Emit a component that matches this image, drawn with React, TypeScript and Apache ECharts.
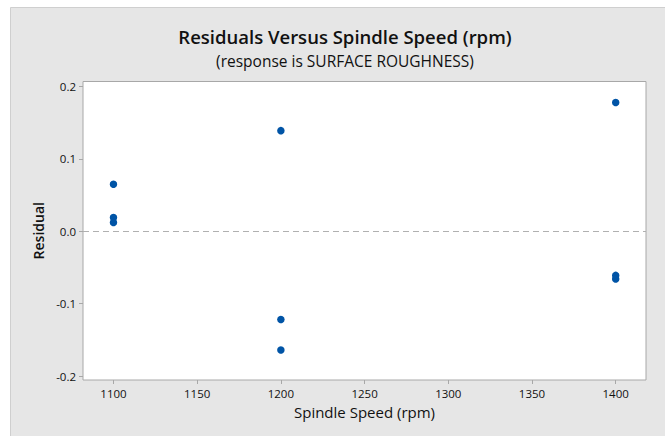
import React, { useEffect, useRef } from "react";
import * as echarts from "echarts";

const spindleSpeed = [1100, 1100, 1100, 1200, 1200, 1200, 1400, 1400, 1400];
const residuals = [0.065, 0.019, 0.012, 0.139, -0.122, -0.164, 0.178, -0.061, -0.066];
const xTicks = [1100, 1150, 1200, 1250, 1300, 1350, 1400];
const yTicks = [-0.2, -0.1, 0.0, 0.1, 0.2];

const FONT = "'Open Sans', 'Noto Sans', sans-serif";

export default function App() {
  const ref = useRef<HTMLDivElement>(null);
  useEffect(() => {
    if (!ref.current) return;
    const chart = echarts.init(ref.current, null, { renderer: "svg" });
    const data = spindleSpeed.map((s, i) => [s, residuals[i]]);
    chart.setOption({
      animation: false,
      backgroundColor: "#ffffff",
      graphic: [
        {
          type: "rect",
          z: -10,
          silent: true,
          shape: { x: 10.5, y: 7.5, width: 700, height: 500 },
          style: { fill: "#e6e6e6", stroke: "#cfcfcf", lineWidth: 1 },
        },
      ],
      title: [
        {
          text: "Residuals Versus Spindle Speed (rpm)",
          left: 340,
          top: 21.5,
          textAlign: "center",
          textStyle: { fontFamily: FONT, fontSize: 18.5, fontWeight: 600, color: "#111111" },
        },
        {
          text: "(response is SURFACE ROUGHNESS)",
          left: 340,
          top: 47.5,
          textAlign: "center",
          textStyle: { fontFamily: FONT, fontSize: 15.5, fontWeight: 500, color: "#111111" },
        },
      ],
      grid: {
        left: 83,
        top: 81.5,
        right: 665 - 646,
        bottom: 436 - 380,
        show: true,
        backgroundColor: "#ffffff",
        borderColor: "#a8a8a8",
        borderWidth: 1,
        containLabel: false,
      },
      xAxis: {
        type: "value",
        min: 1081.8,
        max: 1418.1,
        name: "Spindle Speed (rpm)",
        nameLocation: "middle",
        nameGap: 24,
        nameTextStyle: { fontFamily: FONT, fontSize: 15, color: "#111111" },
        axisLine: { show: false, onZero: false },
        splitLine: { show: false },
        axisTick: {
          show: true,
          length: 4,
          customValues: xTicks,
          lineStyle: { color: "#a8a8a8" },
        },
        axisLabel: {
          customValues: xTicks,
          fontFamily: FONT,
          fontSize: 11.5,
          color: "#111111",
          margin: 7,
          formatter: (v: number) => String(v),
        },
      },
      yAxis: {
        type: "value",
        min: -0.2055,
        max: 0.2069,
        name: "Residual",
        nameLocation: "middle",
        nameGap: 38,
        nameRotate: 90,
        nameTextStyle: { fontFamily: FONT, fontSize: 14, fontWeight: 600, color: "#111111" },
        axisLine: { show: false, onZero: false },
        splitLine: { show: false },
        axisTick: {
          show: true,
          length: 4,
          customValues: yTicks,
          lineStyle: { color: "#a8a8a8" },
        },
        axisLabel: {
          customValues: yTicks,
          fontFamily: FONT,
          fontSize: 11.5,
          color: "#111111",
          margin: 7,
          formatter: (v: number) => v.toFixed(1),
        },
      },
      series: [
        {
          type: "scatter",
          data,
          symbol: "circle",
          symbolSize: 7.5,
          itemStyle: { color: "#0054a6", opacity: 1 },
          markLine: {
            silent: true,
            symbol: "none",
            label: { show: false },
            lineStyle: { color: "#b0b0b0", type: [6, 4], width: 1 },
            data: [{ yAxis: 0 }],
          },
        },
      ],
    });
    return () => chart.dispose();
  }, []);
  return (
    <div
      ref={ref}
      style={{ position: "fixed", left: 0, top: 0, width: 665, height: 436 }}
    />
  );
}
